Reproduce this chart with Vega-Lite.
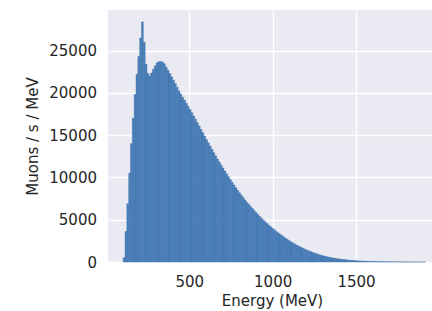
{
  "$schema": "https://vega.github.io/schema/vega-lite/v6.json",
  "width": 324,
  "height": 252,
  "autosize": {"type": "none"},
  "padding": {"left": 108, "top": 10, "right": 0, "bottom": 49},
  "background": "white",
  "config": {
    "view": {"fill": "#eaeaf2", "stroke": null},
    "font": "DejaVu Sans",
    "axis": {
      "grid": true, "gridColor": "white", "gridWidth": 1.3,
      "ticks": false, "tickSize": 0, "domain": false,
      "labelFont": "DejaVu Sans", "labelFontSize": 15, "labelColor": "#262626",
      "titleFont": "DejaVu Sans", "titleFontSize": 15, "titleFontWeight": "normal", "titleColor": "#262626"
    }
  },
  "data": {"values": [
    {"lo":100,"hi":111,"v":500},{"lo":111,"hi":122,"v":3600},{"lo":122,"hi":133,"v":6900},{"lo":133,"hi":144,"v":10500},
    {"lo":144,"hi":155,"v":14000},{"lo":155,"hi":166,"v":17000},{"lo":166,"hi":177,"v":19800},{"lo":177,"hi":188,"v":22200},
    {"lo":188,"hi":199,"v":24300},{"lo":199,"hi":210,"v":26500},{"lo":210,"hi":221,"v":28400},{"lo":221,"hi":232,"v":26000},
    {"lo":232,"hi":243,"v":23400},{"lo":243,"hi":254,"v":22300},{"lo":254,"hi":265,"v":22000},{"lo":265,"hi":276,"v":22350},
    {"lo":276,"hi":287,"v":22800},{"lo":287,"hi":298,"v":23200},{"lo":298,"hi":309,"v":23550},{"lo":309,"hi":320,"v":23680},
    {"lo":320,"hi":331,"v":23720},{"lo":331,"hi":342,"v":23650},{"lo":342,"hi":353,"v":23450},{"lo":353,"hi":364,"v":23040},
    {"lo":364,"hi":375,"v":22680},{"lo":375,"hi":386,"v":22280},{"lo":386,"hi":397,"v":21890},{"lo":397,"hi":408,"v":21490},
    {"lo":408,"hi":419,"v":21090},{"lo":419,"hi":430,"v":20660},{"lo":430,"hi":441,"v":20230},{"lo":441,"hi":452,"v":19840},
    {"lo":452,"hi":463,"v":19480},{"lo":463,"hi":474,"v":19130},{"lo":474,"hi":485,"v":18770},{"lo":485,"hi":496,"v":18400},
    {"lo":496,"hi":507,"v":18030},{"lo":507,"hi":518,"v":17650},{"lo":518,"hi":529,"v":17270},{"lo":529,"hi":540,"v":16880},
    {"lo":540,"hi":551,"v":16480},{"lo":551,"hi":562,"v":16080},{"lo":562,"hi":573,"v":15670},{"lo":573,"hi":584,"v":15270},
    {"lo":584,"hi":595,"v":14870},{"lo":595,"hi":606,"v":14470},{"lo":606,"hi":617,"v":14090},{"lo":617,"hi":628,"v":13700},
    {"lo":628,"hi":639,"v":13320},{"lo":639,"hi":650,"v":12930},{"lo":650,"hi":661,"v":12550},{"lo":661,"hi":672,"v":12180},
    {"lo":672,"hi":683,"v":11820},{"lo":683,"hi":694,"v":11460},{"lo":694,"hi":705,"v":11110},{"lo":705,"hi":716,"v":10760},
    {"lo":716,"hi":727,"v":10420},{"lo":727,"hi":738,"v":10080},{"lo":738,"hi":749,"v":9750},{"lo":749,"hi":760,"v":9420},
    {"lo":760,"hi":771,"v":9100},{"lo":771,"hi":782,"v":8780},{"lo":782,"hi":793,"v":8480},{"lo":793,"hi":804,"v":8180},
    {"lo":804,"hi":815,"v":7890},{"lo":815,"hi":826,"v":7620},{"lo":826,"hi":837,"v":7340},{"lo":837,"hi":848,"v":7080},
    {"lo":848,"hi":859,"v":6830},{"lo":859,"hi":870,"v":6570},{"lo":870,"hi":881,"v":6330},{"lo":881,"hi":892,"v":6090},
    {"lo":892,"hi":903,"v":5850},{"lo":903,"hi":914,"v":5620},{"lo":914,"hi":925,"v":5390},{"lo":925,"hi":936,"v":5170},
    {"lo":936,"hi":947,"v":4960},{"lo":947,"hi":958,"v":4750},{"lo":958,"hi":969,"v":4550},{"lo":969,"hi":980,"v":4360},
    {"lo":980,"hi":991,"v":4170},{"lo":991,"hi":1002,"v":3990},{"lo":1002,"hi":1013,"v":3810},{"lo":1013,"hi":1024,"v":3630},
    {"lo":1024,"hi":1035,"v":3470},{"lo":1035,"hi":1046,"v":3300},{"lo":1046,"hi":1057,"v":3140},{"lo":1057,"hi":1068,"v":2980},
    {"lo":1068,"hi":1079,"v":2830},{"lo":1079,"hi":1090,"v":2680},{"lo":1090,"hi":1101,"v":2530},{"lo":1101,"hi":1112,"v":2390},
    {"lo":1112,"hi":1123,"v":2270},{"lo":1123,"hi":1134,"v":2140},{"lo":1134,"hi":1145,"v":2020},{"lo":1145,"hi":1156,"v":1900},
    {"lo":1156,"hi":1167,"v":1790},{"lo":1167,"hi":1178,"v":1680},{"lo":1178,"hi":1189,"v":1580},{"lo":1189,"hi":1200,"v":1480},
    {"lo":1200,"hi":1211,"v":1385},{"lo":1211,"hi":1222,"v":1290},{"lo":1222,"hi":1233,"v":1200},{"lo":1233,"hi":1244,"v":1120},
    {"lo":1244,"hi":1255,"v":1045},{"lo":1255,"hi":1266,"v":970},{"lo":1266,"hi":1277,"v":895},{"lo":1277,"hi":1288,"v":835},
    {"lo":1288,"hi":1299,"v":775},{"lo":1299,"hi":1310,"v":710},{"lo":1310,"hi":1321,"v":655},{"lo":1321,"hi":1332,"v":607},
    {"lo":1332,"hi":1343,"v":560},{"lo":1343,"hi":1354,"v":513},{"lo":1354,"hi":1365,"v":472},{"lo":1365,"hi":1376,"v":436},
    {"lo":1376,"hi":1387,"v":400},{"lo":1387,"hi":1398,"v":365},{"lo":1398,"hi":1409,"v":337},{"lo":1409,"hi":1420,"v":311},
    {"lo":1420,"hi":1431,"v":285},{"lo":1431,"hi":1442,"v":260},{"lo":1442,"hi":1453,"v":240},{"lo":1453,"hi":1464,"v":219},
    {"lo":1464,"hi":1475,"v":198},{"lo":1475,"hi":1486,"v":181},{"lo":1486,"hi":1497,"v":164},{"lo":1497,"hi":1508,"v":147},
    {"lo":1508,"hi":1519,"v":131},{"lo":1519,"hi":1530,"v":119},{"lo":1530,"hi":1541,"v":107},{"lo":1541,"hi":1552,"v":96},
    {"lo":1552,"hi":1563,"v":85},{"lo":1563,"hi":1574,"v":78},{"lo":1574,"hi":1585,"v":70},{"lo":1585,"hi":1596,"v":62},
    {"lo":1596,"hi":1607,"v":57},{"lo":1607,"hi":1618,"v":51},{"lo":1618,"hi":1629,"v":45},{"lo":1629,"hi":1640,"v":40},
    {"lo":1640,"hi":1651,"v":36},{"lo":1651,"hi":1662,"v":33},{"lo":1662,"hi":1673,"v":29},{"lo":1673,"hi":1684,"v":26},
    {"lo":1684,"hi":1695,"v":23},{"lo":1695,"hi":1706,"v":21},{"lo":1706,"hi":1717,"v":18},{"lo":1717,"hi":1728,"v":17},
    {"lo":1728,"hi":1739,"v":15},{"lo":1739,"hi":1750,"v":13},{"lo":1750,"hi":1761,"v":12},{"lo":1761,"hi":1772,"v":11},
    {"lo":1772,"hi":1783,"v":10},{"lo":1783,"hi":1794,"v":9},{"lo":1794,"hi":1805,"v":8},{"lo":1805,"hi":1816,"v":7},
    {"lo":1816,"hi":1827,"v":6},{"lo":1827,"hi":1838,"v":5},{"lo":1838,"hi":1849,"v":5},{"lo":1849,"hi":1860,"v":4},
    {"lo":1860,"hi":1871,"v":4},{"lo":1871,"hi":1882,"v":3},{"lo":1882,"hi":1893,"v":3},{"lo":1893,"hi":1904,"v":2},
    {"lo":1904,"hi":1915,"v":2}
  ]},
  "mark": {"type": "bar", "binSpacing": 0, "fill": "#4a80bb", "stroke": "#3b6da5", "strokeWidth": 0.4, "opacity": 1},
  "encoding": {
    "x": {
      "field": "lo", "type": "quantitative", "bin": {"binned": true, "step": 11},
      "scale": {"domain": [12, 1956], "nice": false, "zero": false},
      "axis": {"values": [500, 1000, 1500], "format": "d", "title": "Energy (MeV)", "labelPadding": 12, "titlePadding": 4, "titleX": 164}
    },
    "x2": {"field": "hi"},
    "y": {
      "field": "v", "type": "quantitative",
      "scale": {"domain": [0, 29800], "nice": false},
      "axis": {"values": [0, 5000, 10000, 15000, 20000, 25000], "format": "d", "title": "Muons / s / MeV", "labelPadding": 11.5, "titlePadding": 8}
    }
  }
}
